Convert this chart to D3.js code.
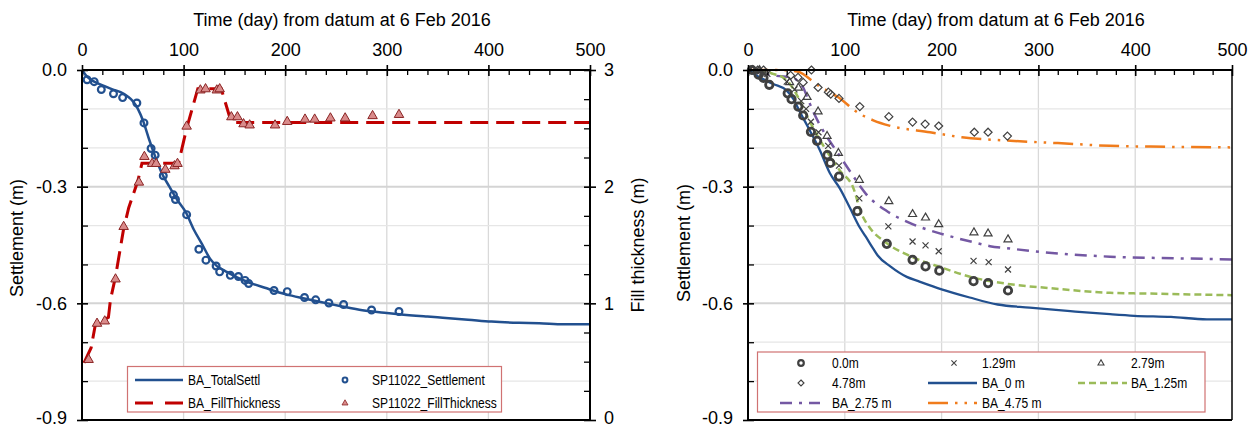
<!DOCTYPE html>
<html><head><meta charset="utf-8">
<script src="https://cdn.jsdelivr.net/npm/d3@7"></script>
<style>
html,body{margin:0;padding:0;background:#fff;}
svg{display:block;font-family:"Liberation Sans",Arial,sans-serif;}
</style></head>
<body>
<svg id="c" width="1256" height="428"></svg>
<script>
// ---------------- DATA ----------------
const xTicks = [0,100,200,300,400,500];
const yTicks = [0,-0.3,-0.6,-0.9];
const yTickLabels = ["0.0","-0.3","-0.6","-0.9"];
const fillTicks = [0,1,2,3];
const xTitle = "Time (day) from datum at 6 Feb 2016";

// Left chart
const baTotalDay = [0,5,12,21,30,38,45,50,55,60,66,72,78,86,94,102,110,118,126,133,141,150,165,180,201,220,236,256,276,300,312,340,355,380,403,430,450,474,500];
const baTotalVal = [0,-0.017,-0.03,-0.04,-0.05,-0.057,-0.068,-0.08,-0.1,-0.13,-0.178,-0.222,-0.262,-0.3,-0.335,-0.365,-0.41,-0.447,-0.485,-0.505,-0.517,-0.53,-0.547,-0.56,-0.577,-0.588,-0.597,-0.608,-0.618,-0.625,-0.628,-0.634,-0.637,-0.642,-0.647,-0.65,-0.651,-0.654,-0.654];
const spSettDay = [5,12,19,31,40,54,61,68,72,80,90,92,103,115,122,132,135.5,146,154,160.5,164,189,202,219,230,243,257.5,285,312];
const spSettVal = [-0.025,-0.03,-0.05,-0.061,-0.071,-0.085,-0.136,-0.202,-0.219,-0.272,-0.321,-0.333,-0.372,-0.461,-0.489,-0.504,-0.519,-0.528,-0.531,-0.541,-0.549,-0.567,-0.57,-0.585,-0.591,-0.599,-0.603,-0.617,-0.621];
const baFillDay = [2,9,13,26,28,33,41,46,55,59,95,103,114,137,147,500];
const baFillVal = [0.49,0.62,0.81,0.88,1.03,1.23,1.64,1.82,2.05,2.2,2.2,2.5,2.84,2.84,2.55,2.55];
const spFillDay = [6.5,14.8,22.4,33,41,56,61.4,69,73,82,91,94,103,116.5,121.6,132.7,135.5,147,153,159,165,190,202,219.5,229,244.5,259,286,312];
const spFillVal = [0.52,0.83,0.85,1.21,1.66,2.04,2.26,2.2,2.2,2.15,2.18,2.2,2.52,2.83,2.84,2.83,2.84,2.6,2.6,2.54,2.53,2.53,2.56,2.58,2.58,2.59,2.59,2.61,2.62];

// Right chart
const ba0Day = [0,12,26,40,47,53,64,74,84.5,95,105,115.5,121.5,129,134,147,164,176,200,229,258,291,333,374,399,437,474,500];
const ba0Val = [0,-0.019,-0.036,-0.053,-0.075,-0.105,-0.156,-0.205,-0.265,-0.305,-0.353,-0.405,-0.428,-0.458,-0.477,-0.505,-0.532,-0.543,-0.564,-0.585,-0.603,-0.611,-0.62,-0.628,-0.632,-0.635,-0.641,-0.641];
const ba125Day = [0,20,26,36,43,50,60,70.7,81,95,108.6,117.3,125.6,142,167,200,233,271,312,374,416,457,500];
const ba125Val = [0,-0.005,-0.01,-0.019,-0.035,-0.062,-0.113,-0.165,-0.207,-0.259,-0.302,-0.37,-0.405,-0.443,-0.478,-0.508,-0.534,-0.551,-0.561,-0.573,-0.575,-0.577,-0.579];
const ba275Day = [0,29,46.5,52,57,62,67,77.6,91,105,122,143,164,198,208,233,250,267,291,333,374,416,457,500];
const ba275Val = [0,-0.015,-0.019,-0.03,-0.045,-0.075,-0.105,-0.156,-0.207,-0.259,-0.319,-0.362,-0.39,-0.42,-0.427,-0.443,-0.453,-0.458,-0.465,-0.474,-0.48,-0.483,-0.485,-0.487];
const ba475Day = [0,30,51,72,92.5,115,130,146,188,221,271,320,374,416,500];
const ba475Val = [0,0,-0.004,-0.039,-0.069,-0.112,-0.13,-0.143,-0.16,-0.173,-0.182,-0.188,-0.195,-0.197,-0.199];
const m00Day = [4,11,16,22,41,45,52,57,65,71.4,82,85,94,113,143.4,170,183.4,197.6,233,248,268.6];
const m00Val = [0,-0.012,-0.02,-0.038,-0.06,-0.075,-0.094,-0.117,-0.159,-0.182,-0.219,-0.239,-0.274,-0.363,-0.447,-0.488,-0.505,-0.516,-0.543,-0.548,-0.567];
const m129Day = [8,15,20,40,48,55,60,65,72.8,82.8,94,115,145,170,183.4,197,233,248.6,268.6];
const m129Val = [0,-0.004,-0.01,-0.03,-0.05,-0.08,-0.1,-0.133,-0.16,-0.195,-0.246,-0.33,-0.402,-0.441,-0.451,-0.466,-0.491,-0.494,-0.513];
const m279Day = [5,12,43,52,61,72.4,81.7,93.4,115,145.5,170,183.4,197,233.4,248,268.6];
const m279Val = [0,0,-0.031,-0.045,-0.069,-0.106,-0.169,-0.213,-0.282,-0.337,-0.37,-0.379,-0.396,-0.417,-0.42,-0.435];
const m478Day = [5,10,16,44,51.7,57,65.5,72.4,83,85.5,94,115.5,145.5,170,183,197,233.8,248,268];
const m478Val = [0,0,0,-0.014,-0.019,-0.032,0,-0.045,-0.057,-0.062,-0.073,-0.094,-0.12,-0.134,-0.139,-0.144,-0.16,-0.16,-0.17];

const leftLegend = ["BA_TotalSettl","SP11022_Settlement","BA_FillThickness","SP11022_FillThickness"];
const rightLegend = ["0.0m","1.29m","2.79m","4.78m","BA_0 m","BA_1.25m","BA_2.75 m","BA_4.75 m"];

// ---------------- STYLE ----------------
const BLUE="#22508f", RED="#c00000", GREEN="#9bbb59", PURPLE="#7458a3", ORANGE="#f07c1c", GRAY="#404040";
const zip=(a,b)=>a.map((d,i)=>[d,b[i]]);
const svg=d3.select("#c");

const triPath=(s)=>{const h=s*0.866;return `M0,${-h*0.62}L${s/2},${h*0.38}L${-s/2},${h*0.38}Z`;};
const diaPath=(r)=>`M0,${-r}L${r},0L0,${r}L${-r},0Z`;
const crossPath=(r)=>`M${-r},${-r}L${r},${r}M${-r},${r}L${r},${-r}`;

function frame(g,x,y){
  const [x0,x1]=x.range(), [yb,yt]=y.range();
  const grid=g.append("g");
  grid.selectAll("line.v").data([100,200,300,400]).join("line")
    .attr("x1",d=>x(d)).attr("x2",d=>x(d)).attr("y1",yt).attr("y2",yb)
    .attr("stroke","#d9d9d9").attr("stroke-width",1.3);
  const hminor=d3.range(1,9).map(i=>-i/10).filter(v=>Math.round(v*10)%3!==0);
  grid.selectAll("line.hm").data(hminor).join("line")
    .attr("x1",x0).attr("x2",x1).attr("y1",d=>y(d)).attr("y2",d=>y(d))
    .attr("stroke","#e6e6e6").attr("stroke-width",1.2);
  grid.selectAll("line.hM").data([-0.3,-0.6]).join("line")
    .attr("x1",x0).attr("x2",x1).attr("y1",d=>y(d)).attr("y2",d=>y(d))
    .attr("stroke","#d4d4d4").attr("stroke-width",2);
}

function axes(g,x,y,opts){
  const [x0,x1]=x.range(), [yb,yt]=y.range();
  const top=g.append("g").attr("transform",`translate(0,${yt})`)
    .call(d3.axisTop(x).tickValues(xTicks).tickSize(5).tickPadding(9).tickFormat(d3.format("d")));
  top.select(".domain").remove();
  top.selectAll("text").style("font-size","18px").attr("fill","#000");
  top.selectAll("line").attr("stroke","#000").attr("stroke-width",1.6);
  const topIn=g.append("g").attr("transform",`translate(0,${yt})`)
    .call(d3.axisBottom(x).tickValues(xTicks).tickSize(6).tickFormat(""));
  topIn.select(".domain").remove(); topIn.selectAll("line").attr("stroke","#000").attr("stroke-width",1.6);
  const topMin=g.append("g").attr("transform",`translate(0,${yt})`)
    .call(d3.axisBottom(x).tickValues(d3.range(20,500,20).filter(d=>d%100)).tickSize(5).tickFormat(""));
  topMin.select(".domain").remove(); topMin.selectAll("line").attr("stroke","#000").attr("stroke-width",1.3);
  const left=g.append("g").attr("transform",`translate(${x0},0)`)
    .call(d3.axisLeft(y).tickValues(yTicks).tickSize(5).tickPadding(10).tickFormat((d,i)=>yTickLabels[i]));
  left.select(".domain").remove();
  left.selectAll("text").style("font-size","18px").attr("fill","#000");
  left.selectAll("text").filter(d=>d===-0.9).attr("dy","0.18em");
  left.selectAll("line").attr("stroke","#000").attr("stroke-width",1.6);
  const leftIn=g.append("g").attr("transform",`translate(${x0},0)`)
    .call(d3.axisRight(y).tickValues(yTicks).tickSize(6).tickFormat(""));
  leftIn.select(".domain").remove(); leftIn.selectAll("line").attr("stroke","#000").attr("stroke-width",1.6);
  const leftMin=g.append("g").attr("transform",`translate(${x0},0)`)
    .call(d3.axisRight(y).tickValues(d3.range(1,9).map(i=>-i/10).filter(v=>Math.round(v*10)%3!==0)).tickSize(6).tickFormat(""));
  leftMin.select(".domain").remove(); leftMin.selectAll("line").attr("stroke","#000").attr("stroke-width",1.3);
  g.append("line").attr("x1",x0).attr("x2",x1).attr("y1",yt).attr("y2",yt).attr("stroke","#000").attr("stroke-width",2);
  g.append("line").attr("x1",x0).attr("x2",x0).attr("y1",yt).attr("y2",yb).attr("stroke","#000").attr("stroke-width",2);
  g.append("line").attr("x1",x0).attr("x2",x1).attr("y1",yb).attr("y2",yb).attr("stroke","#000").attr("stroke-width",2);
  g.append("line").attr("x1",x1).attr("x2",x1).attr("y1",yt).attr("y2",yb).attr("stroke","#000").attr("stroke-width",opts.rightWidth||2);
  g.append("text").attr("x",(x0+x1)/2+6).attr("y",26).attr("text-anchor","middle")
    .style("font-size","18px").text(xTitle);
  g.append("text").attr("transform",`translate(${opts.ytx},${opts.yty}) rotate(-90)`).attr("text-anchor","middle")
    .style("font-size","18px").text("Settlement (m)");
}

function legText(g,x,y,s){
  g.append("text").attr("transform",`translate(${x},${y}) scale(0.86,1)`).attr("dy","0.36em")
    .style("font-size","14px").attr("fill","#000").text(s);
}

// ================= LEFT CHART =================
const xL=d3.scaleLinear([0,500],[82,590]);
const yL=d3.scaleLinear([-0.9,0],[420,70]);
const yF=d3.scaleLinear([0,3],[420,70]);
const gL=svg.append("g");
frame(gL,xL,yL);

const lineL=d3.line().x(d=>xL(d[0])).y(d=>yL(d[1])).curve(d3.curveMonotoneX);
const lineF=d3.line().x(d=>xL(d[0])).y(d=>yF(d[1]));
gL.append("path").datum(zip(baFillDay,baFillVal)).attr("d",lineF).attr("fill","none")
  .attr("stroke",RED).attr("stroke-width",3).attr("stroke-dasharray","18,8");
gL.append("path").datum(zip(baTotalDay,baTotalVal)).attr("d",lineL).attr("fill","none")
  .attr("stroke",BLUE).attr("stroke-width",2.5);
gL.append("g").selectAll("circle").data(zip(spSettDay,spSettVal)).join("circle")
  .attr("cx",d=>xL(d[0])).attr("cy",d=>yL(d[1])).attr("r",3.4)
  .attr("fill","none").attr("stroke",BLUE).attr("stroke-width",2.2);
gL.append("g").selectAll("path").data(zip(spFillDay,spFillVal)).join("path")
  .attr("transform",d=>`translate(${xL(d[0])},${yF(d[1])})`).attr("d",triPath(9.5))
  .attr("fill","#d98b8b").attr("stroke","#8a2424").attr("stroke-width",1);

axes(gL,xL,yL,{ytx:23,yty:238});
const rAx=gL.append("g").attr("transform",`translate(590,0)`)
  .call(d3.axisRight(yF).tickValues(fillTicks).tickSize(6).tickPadding(8).tickFormat(d3.format("d")));
rAx.select(".domain").remove();
rAx.selectAll("text").style("font-size","18px").attr("fill","#000");
rAx.selectAll("text").filter(d=>d===0).attr("dy","0.18em");
rAx.selectAll("line").attr("stroke","#000").attr("stroke-width",1.6);
const rIn=gL.append("g").attr("transform",`translate(590,0)`)
  .call(d3.axisLeft(yF).tickValues(d3.range(0.25,3,0.25).filter(v=>v%1)).tickSize(6).tickFormat(""));
rIn.select(".domain").remove(); rIn.selectAll("line").attr("stroke","#000").attr("stroke-width",1.3);
const rInM=gL.append("g").attr("transform",`translate(590,0)`)
  .call(d3.axisLeft(yF).tickValues(fillTicks).tickSize(6).tickFormat(""));
rInM.select(".domain").remove(); rInM.selectAll("line").attr("stroke","#000").attr("stroke-width",1.6);
gL.append("text").attr("transform",`translate(644,245) rotate(-90)`).attr("text-anchor","middle")
  .style("font-size","18px").text("Fill thickness (m)");

const lgL=gL.append("g");
lgL.append("rect").attr("x",127.5).attr("y",366.5).attr("width",374).attr("height",45.5)
  .attr("fill","#fff").attr("stroke","#d07272").attr("stroke-width",1.2);
lgL.append("line").attr("x1",135).attr("x2",183).attr("y1",380).attr("y2",380).attr("stroke",BLUE).attr("stroke-width",2.5);
lgL.append("line").attr("x1",135).attr("x2",183).attr("y1",403).attr("y2",403).attr("stroke",RED).attr("stroke-width",3).attr("stroke-dasharray","18,12");
lgL.append("circle").attr("cx",345).attr("cy",380).attr("r",2.4).attr("fill","none").attr("stroke",BLUE).attr("stroke-width",2);
lgL.append("path").attr("transform","translate(345,403)").attr("d",triPath(6)).attr("fill","#d98b8b").attr("stroke","#8a2424").attr("stroke-width",0.8);
legText(lgL,188,380,leftLegend[0]);
legText(lgL,372,380,leftLegend[1]);
legText(lgL,188,403,leftLegend[2]);
legText(lgL,372,403,leftLegend[3]);

// ================= RIGHT CHART =================
const xR=d3.scaleLinear([0,500],[748,1232]);
const yR=d3.scaleLinear([-0.9,0],[420,70]);
const gR=svg.append("g");
frame(gR,xR,yR);
const lineR=d3.line().x(d=>xR(d[0])).y(d=>yR(d[1])).curve(d3.curveMonotoneX);
const series=[
  {d:ba475Day,v:ba475Val,c:ORANGE,w:2.5,dash:"20,7,2.5,7,2.5,7"},
  {d:ba275Day,v:ba275Val,c:PURPLE,w:2.5,dash:"12,7,3,7"},
  {d:ba125Day,v:ba125Val,c:GREEN,w:2.5,dash:"7,4"},
  {d:ba0Day,v:ba0Val,c:BLUE,w:2.3,dash:null}
];
series.forEach(s=>{
  gR.append("path").datum(zip(s.d,s.v)).attr("d",lineR).attr("fill","none")
    .attr("stroke",s.c).attr("stroke-width",s.w).attr("stroke-dasharray",s.dash);
});
gR.append("g").selectAll("path").data(zip(m478Day,m478Val)).join("path")
  .attr("transform",d=>`translate(${xR(d[0])},${yR(d[1])})`).attr("d",diaPath(4))
  .attr("fill","none").attr("stroke",GRAY).attr("stroke-width",1.2);
gR.append("g").selectAll("path").data(zip(m279Day,m279Val)).join("path")
  .attr("transform",d=>`translate(${xR(d[0])},${yR(d[1])})`).attr("d",triPath(8))
  .attr("fill","none").attr("stroke",GRAY).attr("stroke-width",1.2);
gR.append("g").selectAll("path").data(zip(m129Day,m129Val)).join("path")
  .attr("transform",d=>`translate(${xR(d[0])},${yR(d[1])})`).attr("d",crossPath(3))
  .attr("fill","none").attr("stroke",GRAY).attr("stroke-width",1.2);
gR.append("g").selectAll("circle").data(zip(m00Day,m00Val)).join("circle")
  .attr("cx",d=>xR(d[0])).attr("cy",d=>yR(d[1])).attr("r",3.7)
  .attr("fill","none").attr("stroke",GRAY).attr("stroke-width",2.8);

axes(gR,xR,yR,{ytx:690,yty:243,rightWidth:1.5});

const lgR=gR.append("g");
lgR.append("rect").attr("x",757.5).attr("y",352).attr("width",447.5).attr("height",60)
  .attr("fill","#fff").attr("stroke","#d07272").attr("stroke-width",1.2);
const rows=[363,383,403];
lgR.append("circle").attr("cx",801).attr("cy",rows[0]).attr("r",2.8).attr("fill","none").attr("stroke",GRAY).attr("stroke-width",2.2);
lgR.append("path").attr("transform",`translate(954,${rows[0]})`).attr("d",crossPath(2.6)).attr("fill","none").attr("stroke",GRAY).attr("stroke-width",1.1);
lgR.append("path").attr("transform",`translate(1101,${rows[0]})`).attr("d",triPath(6)).attr("fill","none").attr("stroke",GRAY).attr("stroke-width",1.1);
lgR.append("path").attr("transform",`translate(801,${rows[1]})`).attr("d",diaPath(3)).attr("fill","none").attr("stroke",GRAY).attr("stroke-width",1.1);
lgR.append("line").attr("x1",928).attr("x2",977).attr("y1",rows[1]).attr("y2",rows[1]).attr("stroke",BLUE).attr("stroke-width",2.5);
lgR.append("line").attr("x1",1078).attr("x2",1127).attr("y1",rows[1]).attr("y2",rows[1]).attr("stroke",GREEN).attr("stroke-width",2.5).attr("stroke-dasharray","7,4");
lgR.append("line").attr("x1",780).attr("x2",820).attr("y1",rows[2]).attr("y2",rows[2]).attr("stroke",PURPLE).attr("stroke-width",2.5).attr("stroke-dasharray","12,7,3,7");
lgR.append("line").attr("x1",928).attr("x2",977).attr("y1",rows[2]).attr("y2",rows[2]).attr("stroke",ORANGE).attr("stroke-width",2.5).attr("stroke-dasharray","20,7,2.5,7,2.5,7");
legText(lgR,832,rows[0],rightLegend[0]);
legText(lgR,982,rows[0],rightLegend[1]);
legText(lgR,1131,rows[0],rightLegend[2]);
legText(lgR,832,rows[1],rightLegend[3]);
legText(lgR,982,rows[1],rightLegend[4]);
legText(lgR,1131,rows[1],rightLegend[5]);
legText(lgR,832,rows[2],rightLegend[6]);
legText(lgR,982,rows[2],rightLegend[7]);
</script>
</body></html>
